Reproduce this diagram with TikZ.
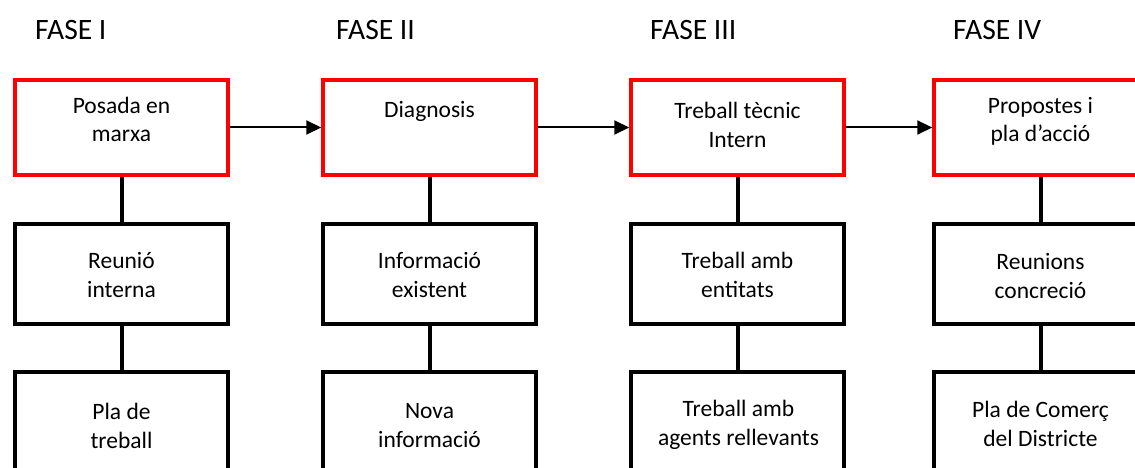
\documentclass[tikz,border=0pt]{standalone}
\usepackage{fontspec}
\setmainfont{Carlito}
\usetikzlibrary{arrows.meta}
\tikzset{
  phasebox/.style={draw=red, line width=3.5pt, minimum width=213pt, minimum height=95pt, inner sep=0pt},
  stepbox/.style={draw=black, line width=3.5pt, minimum width=213pt, minimum height=100pt, inner sep=0pt},
  lowbox/.style={draw=black, line width=3.5pt, minimum width=213pt, minimum height=120pt, inner sep=0pt},
  txt/.style={font=\fontsize{23.5pt}{28.5pt}\selectfont, align=center, anchor=base, inner sep=0pt},
  phase/.style={font=\fontsize{29.6pt}{34pt}\selectfont, anchor=base west, inner sep=0pt},
  flow/.style={line width=2pt, -{Triangle[length=15pt, width=14pt]}},
  link/.style={line width=4pt}
}
\begin{document}
\begin{tikzpicture}[x=1pt, y=-1pt]
\useasboundingbox (0,0) rectangle (1135,468);
\clip (0,0) rectangle (1135,468);
\fill[white] (0,0) rectangle (1135,468);
% phase titles
\node[phase] (f1) at (35,40) {FASE I};
\node[phase] (f2) at (336,40) {FASE II};
\node[phase] (f3) at (650,40) {FASE III};
\node[phase] (f4) at (953,40) {FASE IV};
% top (red) boxes
\node[phasebox] (a1) at (121.5,127.5) {};
\node[phasebox] (a2) at (429.5,127.5) {};
\node[phasebox] (a3) at (737.5,127.5) {};
\node[phasebox] (a4) at (1040.5,127.5) {};
% middle boxes
\node[stepbox] (b1) at (121.5,274) {};
\node[stepbox] (b2) at (429.5,274) {};
\node[stepbox] (b3) at (737.5,274) {};
\node[stepbox] (b4) at (1040.5,274) {};
% bottom boxes
\node[lowbox] (c1) at (121.5,432) {};
\node[lowbox] (c2) at (429.5,432) {};
\node[lowbox] (c3) at (737.5,432) {};
\node[lowbox] (c4) at (1040.5,432) {};
% texts (anchor base = last line baseline)
\node[txt] (ta1) at (121.5,142) {Posada en\\marxa};
\node[txt] (ta2) at (429.5,118) {Diagnosis};
\node[txt] (ta3) at (737.5,147) {Treball tècnic\\Intern};
\node[txt] (ta4) at (1040.5,142) {Propostes i\\pla d’acció};
\node[txt] (tb1) at (121.5,297) {Reunió\\interna};
\node[txt] (tb2) at (429.5,297) {Informació\\existent};
\node[txt] (tb3) at (737.5,297) {Treball amb\\entitats};
\node[txt] (tb4) at (1040.5,298) {Reunions\\concreció};
\node[txt] (tc1) at (121.5,448) {Pla de\\treball};
\node[txt] (tc2) at (429.5,447) {Nova\\informació};
\node[txt] (tc3) at (738.5,445) {Treball amb\\agents rellevants};
\node[txt] (tc4) at (1040.5,446) {Pla de Comerç\\del Districte};
% arrows between phases
\draw[flow] (a1.east) -- (a2.west);
\draw[flow] (a2.east) -- (a3.west);
\draw[flow] (a3.east) -- (a4.west);
% vertical links
\foreach \i in {1,2,3,4}{
  \draw[link] (a\i.south) -- (b\i.north);
  \draw[link] (b\i.south) -- (c\i.north);
}
\end{tikzpicture}
\end{document}
